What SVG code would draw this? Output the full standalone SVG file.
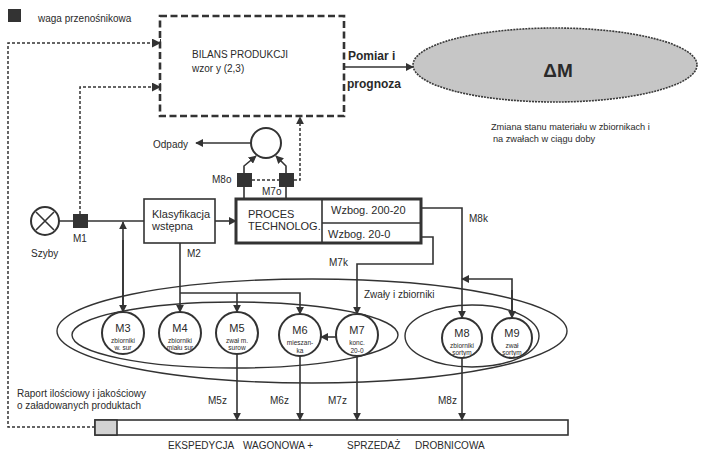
<svg xmlns="http://www.w3.org/2000/svg" width="707" height="452" viewBox="0 0 707 452">
<defs>
<style>
text{font-family:"Liberation Sans",Arial,sans-serif;fill:#2a2a2a}
.ln{fill:none;stroke:#333;stroke-width:1.6}
.dot{fill:none;stroke:#333;stroke-width:1.5;stroke-dasharray:3 2}
.dash{fill:none;stroke:#333;stroke-width:2.6;stroke-dasharray:7 3.5}
.box{fill:#fff;stroke:#333;stroke-width:1.6}
.cir{fill:#fff;stroke:#333;stroke-width:2}
.ell{fill:none;stroke:#333;stroke-width:1.4}
.sq{fill:#333;stroke:none}
.t10{font-size:10px}
.t11{font-size:11px}
.m{font-size:11px;text-anchor:middle}
.s{font-size:6.5px;text-anchor:middle}
</style>
<marker id="a" viewBox="0 0 10 10" refX="9" refY="5" markerWidth="8" markerHeight="8" markerUnits="userSpaceOnUse" orient="auto">
<path d="M0,0 L10,5 L0,10 Z" fill="#333"/>
</marker>
<marker id="ab" viewBox="0 0 10 10" refX="9" refY="5" markerWidth="9" markerHeight="9" markerUnits="userSpaceOnUse" orient="auto">
<path d="M0,0 L10,5 L0,10 Z M9,0 L10.5,0 L10.5,10 L9,10 Z" fill="#333"/>
</marker>
</defs>
<rect width="707" height="452" fill="#fff"/>

<g id="legend">
<rect x="8" y="9" width="13" height="13" class="sq"/>
<text x="38" y="22" class="t10">waga przenośnikowa</text>
</g>

<g id="bilans">
<rect x="160" y="16" width="184" height="100" fill="#fff" class="dash"/>
<text x="192" y="58" class="t10">BILANS  PRODUKCJI</text>
<text x="192" y="72" class="t10">wzor y (2,3)</text>
</g>

<g id="pomiar">
<text x="348" y="60" font-size="12" font-weight="bold">Pomiar i</text>
<text x="347" y="88" font-size="12" font-weight="bold">prognoza</text>
</g>

<g id="deltaM">
<ellipse cx="555" cy="65" rx="142" ry="37" fill="#c6c6c6" stroke="#3a3a3a" stroke-width="1.6" stroke-dasharray="2 1"/>
<text x="558" y="77" font-size="19" font-weight="bold" text-anchor="middle">ΔM</text>
<text x="491" y="130" font-size="9.2">Zmiana stanu materiału w zbiornikach i</text>
<text x="493" y="142" font-size="9.2">na zwałach w ciągu doby</text>
</g>

<g id="szyby">
<circle cx="45" cy="221" r="14" class="cir"/>
<path d="M36,212 L54,230 M54,212 L36,230" class="ln" stroke-width="1.8"/>
<text x="31" y="257" class="t10">Szyby</text>
</g>

<g id="M1">
<rect x="73" y="214" width="15" height="14" class="sq"/>
<text x="73" y="242" class="t10">M1</text>
</g>

<g id="klasyfikacja">
<rect x="144" y="199" width="71" height="44" class="box"/>
<text x="152" y="218" class="t11">Klasyfikacja</text>
<text x="152" y="230" class="t11">wstępna</text>
<text x="187" y="257" class="t10">M2</text>
</g>

<g id="proces">
<rect x="236" y="199" width="185" height="44" fill="#fff" stroke="#333" stroke-width="3"/>
<path d="M322,199 V243 M322,223 H421" class="ln" stroke-width="2"/>
<text x="248" y="218" class="t11">PROCES</text>
<text x="248" y="230" class="t11">TECHNOLOG.</text>
<text x="331" y="214" class="t11">Wzbog. 200-20</text>
<text x="328" y="238" class="t11">Wzbog. 20-0</text>
</g>

<g id="odpady">
<circle cx="266" cy="143" r="15" class="cir"/>
<text x="153" y="148" class="t10">Odpady</text>
</g>

<g id="M8o">
<rect x="237" y="173" width="15" height="14" class="sq"/>
<text x="212" y="183" class="t10">M8o</text>
</g>

<g id="M7o">
<rect x="279" y="173" width="15" height="14" class="sq"/>
<text x="262" y="195" class="t10">M7o</text>
</g>

<g id="zwaly">
<ellipse cx="312" cy="331" rx="255" ry="52" class="ell"/>
<ellipse cx="235" cy="335" rx="163" ry="33" class="ell"/>
<ellipse cx="472" cy="336" rx="67" ry="31" class="ell"/>
<text x="364" y="298" class="t10">Zwały i zbiorniki</text>
</g>

<g id="M3"><circle cx="123" cy="333" r="21" class="cir"/><text x="123" y="332" class="m">M3</text><text x="123" y="343" class="s">zbiorniki</text><text x="123" y="350" class="s">w. sur</text></g>
<g id="M4"><circle cx="180" cy="333" r="21" class="cir"/><text x="180" y="332" class="m">M4</text><text x="180" y="343" class="s">zbiorniki</text><text x="180" y="350" class="s">miału sur</text></g>
<g id="M5"><circle cx="237" cy="333" r="21" class="cir"/><text x="237" y="332" class="m">M5</text><text x="237" y="343" class="s">zwał m.</text><text x="237" y="350" class="s">surow</text></g>
<g id="M6"><circle cx="300" cy="335" r="21" class="cir"/><text x="300" y="334" class="m">M6</text><text x="300" y="345" class="s">mieszan-</text><text x="300" y="353" class="s">ka</text></g>
<g id="M7"><circle cx="357" cy="335" r="21" class="cir"/><text x="357" y="334" class="m">M7</text><text x="357" y="345" class="s">konc.</text><text x="357" y="353" class="s">20-0</text></g>
<g id="M8"><circle cx="462" cy="338" r="20" class="cir"/><text x="462" y="337" class="m">M8</text><text x="462" y="348" class="s">zbiorniki</text><text x="462" y="355" class="s">sortym</text></g>
<g id="M9"><circle cx="512" cy="338" r="20" class="cir"/><text x="512" y="337" class="m">M9</text><text x="512" y="348" class="s">zwał</text><text x="512" y="355" class="s">sortym</text></g>

<g id="ekspedycja">
<rect x="95" y="420" width="473" height="15" class="box"/>
<rect x="95" y="420" width="22" height="15" fill="#d2d2d2" stroke="#333" stroke-width="1.6"/>
<text x="17" y="397" class="t10">Raport ilościowy i jakościowy</text>
<text x="17" y="409" class="t10">o załadowanych produktach</text>
<text x="168" y="449" class="t10">EKSPEDYCJA</text>
<text x="243" y="449" class="t10">WAGONOWA +</text>
<text x="347" y="449" class="t10">SPRZEDAŻ</text>
<text x="415" y="449" class="t10">DROBNICOWA</text>
</g>

<g id="connectors">
<!-- dotted signal lines -->
<path d="M95,427 H8 V43 H160" class="dot" marker-end="url(#ab)"/>
<path d="M80,214 V87 H160" class="dot" marker-end="url(#ab)"/>
<path d="M252,180 H279" class="dot"/>
<path d="M294,180 H300 V117" class="dot" marker-end="url(#a)"/>
<!-- pomiar -->
<path d="M344,67 H413" class="ln" stroke-width="1.8" marker-end="url(#a)"/>
<!-- main line -->
<path d="M59,221 H73 M88,221 H144" class="ln"/>
<path d="M215,221 H236" class="ln" marker-end="url(#a)"/>
<!-- odpady -->
<path d="M251,143 H196" class="ln" marker-end="url(#a)"/>
<path d="M244,199 V187 M286,199 V187" class="ln"/>
<path d="M244,173 V166 L256,156" class="ln" marker-end="url(#a)"/>
<path d="M286,173 V166 L276,156" class="ln" marker-end="url(#a)"/>
<!-- M3 double -->
<path d="M123,312 V222" class="ln" marker-end="url(#a)"/>
<path d="M123,240 V312" class="ln" marker-end="url(#a)"/>
<!-- M2 -->
<path d="M180,243 V312" class="ln" marker-end="url(#a)"/>
<path d="M180,293 H300 V314" class="ln" marker-end="url(#a)"/>
<path d="M237,293 V312" class="ln" marker-end="url(#a)"/>
<!-- M7k -->
<path d="M421,237 H433 V264 H357 V314" class="ln" marker-end="url(#a)"/>
<!-- M7 -> M6 -->
<path d="M336,337 H321" class="ln" marker-end="url(#a)"/>
<!-- M8k -->
<path d="M421,208 H462 V318" class="ln" marker-end="url(#a)"/>
<path d="M512,318 V279 H462" class="ln" marker-end="url(#a)"/>
<path d="M512,290 V318" class="ln" marker-end="url(#a)"/>
<!-- to expedition -->
<path d="M237,354 V420" class="ln" marker-end="url(#a)"/>
<path d="M300,356 V420" class="ln" marker-end="url(#a)"/>
<path d="M357,356 V420" class="ln" marker-end="url(#a)"/>
<path d="M462,358 V420" class="ln" marker-end="url(#a)"/>
<text x="469" y="222" class="t10">M8k</text>
<text x="329" y="266" class="t10">M7k</text>
<text x="208" y="404" class="t10">M5z</text>
<text x="270" y="404" class="t10">M6z</text>
<text x="328" y="404" class="t10">M7z</text>
<text x="438" y="404" class="t10">M8z</text>
</g>
</svg>
